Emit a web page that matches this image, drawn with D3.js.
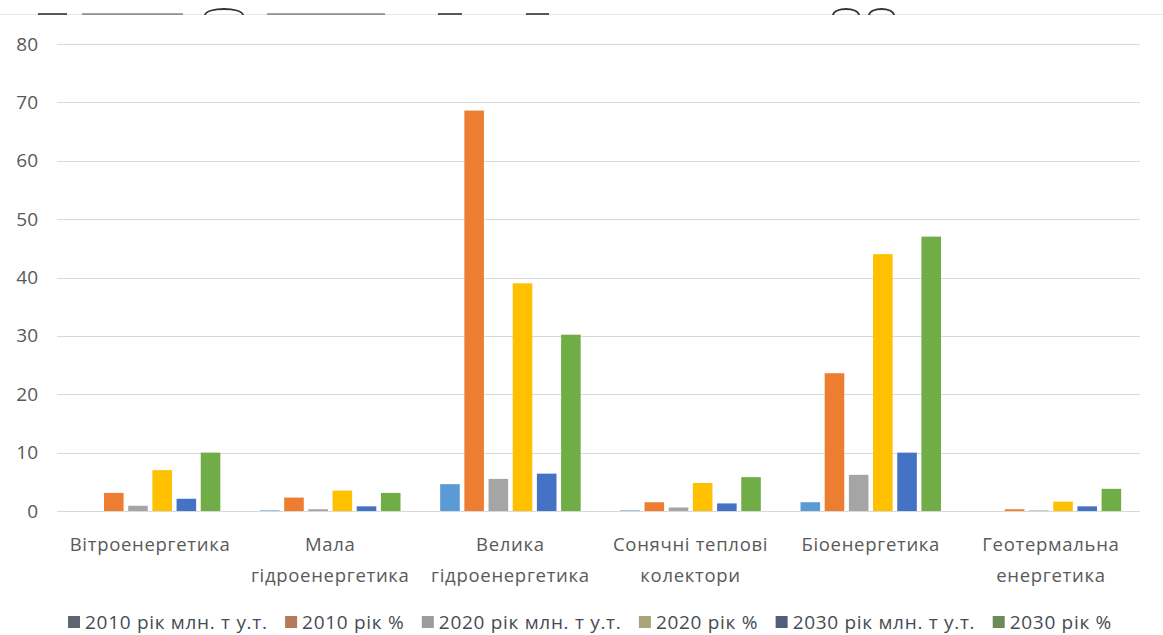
<!DOCTYPE html>
<html>
<head>
<meta charset="utf-8">
<script src="https://cdn.jsdelivr.net/npm/d3@7"></script>
<style>
  html, body { margin: 0; padding: 0; background: #fff; }
  svg { display: block; }
</style>
</head>
<body>
<svg id="chart" width="1163" height="635"></svg>
<script>
// Renewable energy sources by category, 2010 / 2020 / 2030
const categories = [
  ["Вітроенергетика"],
  ["Мала", "гідроенергетика"],
  ["Велика", "гідроенергетика"],
  ["Сонячні теплові", "колектори"],
  ["Біоенергетика"],
  ["Геотермальна", "енергетика"]
];
const seriesNames = [
  "2010 рік млн. т у.т.", "2010 рік %",
  "2020 рік млн. т у.т.", "2020 рік %",
  "2030 рік млн. т у.т.", "2030 рік %"
];
const s2010mln = [0, 0.1, 4.6, 0.1, 1.5, 0];
const s2010pct = [3.1, 2.3, 68.6, 1.5, 23.6, 0.3];
const s2020mln = [0.9, 0.3, 5.5, 0.6, 6.2, 0.1];
const s2020pct = [7.0, 3.5, 39.0, 4.8, 44.0, 1.6];
const s2030mln = [2.1, 0.8, 6.4, 1.3, 10.0, 0.8];
const s2030pct = [10.0, 3.1, 30.2, 5.8, 47.0, 3.8];
const yTicks = [0, 10, 20, 30, 40, 50, 60, 70, 80];

const barColors = ["#5B9BD5", "#ED7D31", "#A5A5A5", "#FFC000", "#4472C4", "#70AD47"];
const legendColors = ["#5d6671", "#b47a5c", "#9c9c9c", "#aaa47a", "#525d7b", "#6c8a5a"];

const seriesValues = [s2010mln, s2010pct, s2020mln, s2020pct, s2030mln, s2030pct];
const FONT = "'Open Sans', sans-serif";

const svg = d3.select("#chart");

// faint line and clipped glyph fragments along the top edge
const topEdge = svg.append("g");
topEdge.append("line").attr("x1", 0).attr("x2", 1163).attr("y1", 14.5).attr("y2", 14.5)
  .attr("stroke", "#e6e6e6").attr("stroke-width", 1.2);
const frag = topEdge.append("g").attr("stroke", "#333").attr("fill", "none").attr("stroke-linecap", "butt");
[[38, 67, 1.6], [82, 183, 0.9], [267, 385, 0.9], [438, 462, 1.6], [526, 549, 1.6]].forEach(([a, b, w]) => {
  frag.append("line").attr("x1", a).attr("x2", b).attr("y1", 14).attr("y2", 14).attr("stroke-width", w);
});
[[205, 243], [833, 859], [869, 894]].forEach(([a, b]) => {
  frag.append("path").attr("stroke-width", 1.8)
    .attr("d", `M${a},15 C${a + 1},7 ${b - 1},7 ${b},15`);
});

// scales
const x = d3.scaleBand().domain(d3.range(categories.length)).range([60, 1141]).paddingInner(0).paddingOuter(0);
const xi = d3.scaleBand().domain(d3.range(seriesNames.length)).range([0, x.bandwidth()])
  .paddingInner(0.19).paddingOuter(0.82);
const y = d3.scaleLinear().domain([0, 80]).range([511, 44]);

// gridlines
svg.append("g")
  .selectAll("line").data(yTicks).join("line")
  .attr("x1", 57).attr("x2", 1140)
  .attr("y1", d => Math.round(y(d)) + 0.5).attr("y2", d => Math.round(y(d)) + 0.5)
  .attr("stroke", "#d9d9d9").attr("stroke-width", 1.2);

// y axis labels
const yAxis = d3.axisLeft(y).tickValues(yTicks).tickSize(0).tickPadding(0);
const yg = svg.append("g").attr("transform", "translate(38,0)").call(yAxis);
yg.select(".domain").remove();
yg.selectAll("text").attr("font-family", FONT).attr("font-size", 19)
  .attr("fill", "#595959");

// bars
const groups = svg.append("g").selectAll("g").data(categories).join("g")
  .attr("transform", (d, i) => `translate(${x(i)},0)`);
groups.selectAll("rect")
  .data((d, ci) => seriesValues.map((vals, si) => ({ si, v: vals[ci] })))
  .join("rect")
  .attr("x", d => xi(d.si))
  .attr("width", xi.bandwidth())
  .attr("y", d => y(d.v))
  .attr("height", d => y(0) - y(d.v))
  .attr("fill", d => barColors[d.si]);

// category labels
const labels = svg.append("g").selectAll("text").data(categories).join("text")
  .attr("x", (d, i) => x(i) + x.bandwidth() / 2)
  .attr("y", 551)
  .attr("text-anchor", "middle")
  .attr("font-family", FONT).attr("font-size", 18.5)
  .attr("letter-spacing", 0.7)
  .attr("fill", "#595959");
labels.selectAll("tspan").data(d => d).join("tspan")
  .attr("x", function () { return this.parentNode.getAttribute("x"); })
  .attr("dy", (d, i) => i === 0 ? 0 : 31)
  .text(d => d);

// legend, spread across the width below the axis labels
const legendLeft = 68, legendRight = 1112;
const legend = svg.append("g").attr("transform", "translate(0,622)");
const entries = seriesNames.map((name, i) => {
  const g = legend.append("g");
  g.append("rect").attr("x", 0).attr("y", -6).attr("width", 12).attr("height", 12).attr("fill", legendColors[i]);
  const t = g.append("text").attr("x", 17).attr("y", 0).attr("dy", "0.35em")
    .attr("font-family", FONT).attr("font-size", 19)
    .attr("letter-spacing", 0.7)
    .attr("fill", "#454c55").text(name);
  return { g, w: 17 + t.node().getComputedTextLength() };
});
const used = d3.sum(entries, e => e.w);
const gap = Math.max(8, (legendRight - legendLeft - used) / (entries.length - 1));
let cx = legendLeft;
entries.forEach(e => {
  e.g.attr("transform", `translate(${cx},0)`);
  cx += e.w + gap;
});
</script>
</body>
</html>
